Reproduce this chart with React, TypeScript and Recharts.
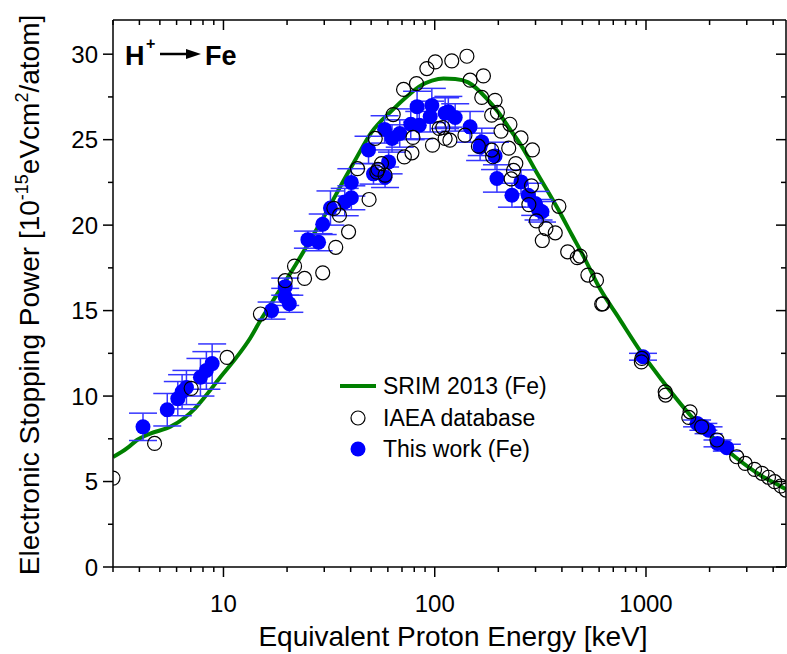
import { ComposedChart, Line, Scatter, XAxis, YAxis, ErrorBar } from 'recharts'

document.body.style.margin = '0'

// SRIM 2013 curve (keV, 1e-15 eVcm2/atom)
const srimEnergy = [3, 3.5, 3.9, 4.5, 5.6, 6.5, 7.3, 8.1, 9.7, 11.5, 13.4, 15, 17, 22, 26, 31.5, 37, 42, 50, 63, 75, 84, 97, 110, 125, 144, 175, 200, 223, 260, 300, 385, 445, 505, 595, 750, 950, 1186, 1643, 2000, 2636, 3500, 4375, 4600]
const srimPower = [6.43, 6.95, 7.43, 7.8, 8.2, 8.7, 9.25, 9.9, 11.13, 12.25, 13.4, 14.45, 15.5, 17.7, 19.2, 21.0, 22.6, 23.8, 25.4, 26.73, 27.6, 28.09, 28.45, 28.58, 28.55, 28.35, 27.45, 26.6, 25.75, 24.55, 23.2, 20.9, 19.45, 18.2, 16.45, 14.5, 12.55, 10.95, 8.8, 7.75, 6.45, 5.35, 4.7, 4.55]

// IAEA database
const iaeaEnergy = [3.0, 4.72, 7.03, 10.4, 14.96, 19.6, 21.7, 24.2, 29.5, 34.0, 39.1, 35.4, 33.3, 48.9, 43.1, 53.2, 52.3, 56, 58.2, 53.9, 63.6, 71.2, 82, 91.8, 100.6, 120.4, 142, 147, 170, 167, 186, 71.8, 78, 78.9, 97.6, 109.2, 112, 118, 139, 161, 186, 188, 105, 193, 198, 227, 206, 256, 224, 290, 242, 236, 230, 287, 279, 303, 387, 323, 372, 336, 426, 487, 473, 531, 583, 617, 625, 951, 955, 1233, 1238, 1617, 1594, 1834, 2168, 2687, 2948, 3265, 3541, 3801, 4065, 4350, 4600]
const iaeaPower = [5.2, 7.23, 10.45, 12.26, 14.8, 16.75, 17.6, 16.88, 17.21, 18.7, 19.61, 20.58, 20.98, 21.5, 23.3, 23.1, 25.07, 23.6, 22.92, 23.26, 26.47, 27.94, 28.28, 29.16, 29.55, 29.61, 29.88, 28.48, 28.73, 27.47, 26.43, 23.99, 24.23, 25.13, 24.68, 25.71, 25.07, 24.97, 25.26, 24.62, 24.39, 24.0, 25.66, 27.3, 26.6, 25.9, 25.5, 25.1, 24.5, 24.4, 23.6, 23.2, 22.7, 22.3, 21.2, 20.25, 21.1, 19.1, 19.55, 19.8, 18.44, 18.19, 18.1, 17.08, 16.78, 15.38, 15.4, 12.0, 12.2, 10.25, 10.06, 9.08, 8.75, 8.2, 7.43, 6.45, 6.06, 5.71, 5.48, 5.25, 4.99, 4.74, 4.5]

// This work (Fe)
const workEnergy = [4.16, 5.42, 6.08, 6.37, 6.68, 7.78, 8.3, 8.84, 16.9, 19.6, 19.6, 20.5, 25.1, 28.2, 29.5, 32.1, 37.5, 40.3, 40.3, 48.6, 51.3, 58.2, 60.5, 57.9, 62.8, 68.3, 77, 82.5, 84.5, 96.9, 95.2, 112, 116, 125, 147, 167, 164, 193, 197, 232, 256, 277, 299, 310, 322, 968, 1745, 1869, 1978, 2180, 2414]
const workPower = [8.2, 9.2, 9.85, 10.25, 10.5, 11.1, 11.5, 11.9, 15.0, 16.4, 15.8, 15.4, 19.15, 19.0, 20.05, 21.0, 21.35, 21.6, 22.5, 24.4, 23.0, 22.8, 23.7, 25.6, 25.07, 25.36, 25.9, 26.93, 25.85, 27.0, 26.35, 26.55, 26.63, 26.3, 25.75, 24.87, 24.58, 24.05, 22.73, 21.75, 22.53, 21.75, 21.27, 20.9, 20.78, 12.3, 8.4, 8.2, 8.0, 7.23, 6.98]
const workError = [0.8, 0.95, 1.0, 1.0, 1.0, 1.1, 1.1, 1.15, 0.5, 0.5, 0.5, 0.5, 0.5, 0.5, 0.6, 1.0, 0.8, 0.7, 0.8, 0.8, 0.6, 0.6, 0.7, 0.8, 0.8, 0.8, 0.9, 0.9, 0.8, 1.0, 0.9, 0.9, 0.9, 0.8, 0.9, 0.8, 0.8, 0.8, 0.8, 0.7, 0.7, 0.7, 0.7, 0.6, 0.6, 0.2, 0.2, 0.2, 0.2, 0.2, 0.2]

const xTicks = [3, 4, 5, 6, 7, 8, 9, 10, 20, 30, 40, 50, 60, 70, 80, 90, 100, 200, 300, 400, 500, 600, 700, 800, 900, 1000, 2000, 3000, 4000]
const xLabels = [10, 100, 1000]
const yTicks = [0, 2.5, 5, 7.5, 10, 12.5, 15, 17.5, 20, 22.5, 25, 27.5, 30]

const srimData = srimEnergy.map((x, i) => ({ x, y: srimPower[i] }))
const iaeaData = iaeaEnergy.map((x, i) => ({ x, y: iaeaPower[i] }))
const workData = workEnergy.map((x, i) => ({ x, y: workPower[i], err: workError[i] }))

const FONT = '"Liberation Sans", Arial, sans-serif'
const BLUE = '#0000ff'
const GREEN = '#008000'

function BottomTick({ x, y, payload }: any) {
  const major = xLabels.includes(payload.value)
  return (
    <g>
      <line x1={x} x2={x} y1={y} y2={y + (major ? 10 : 5)} stroke="#000" strokeWidth={1.5} />
      {major && (
        <text x={x} y={y + 45} textAnchor="middle" fontSize={24} fontFamily={FONT} fill="#000">
          {payload.value}
        </text>
      )}
    </g>
  )
}

function TopTick({ x, y, payload }: any) {
  const major = xLabels.includes(payload.value)
  return <line x1={x} x2={x} y1={y} y2={y + (major ? 10 : 5)} stroke="#000" strokeWidth={1.5} />
}

function LeftTick({ x, y, payload }: any) {
  const major = payload.value % 5 === 0
  return (
    <g>
      <line x1={x - (major ? 10 : 5)} x2={x} y1={y} y2={y} stroke="#000" strokeWidth={1.5} />
      {major && (
        <text x={x - 15} y={y + 8.5} textAnchor="end" fontSize={24} fontFamily={FONT} fill="#000">
          {payload.value}
        </text>
      )}
    </g>
  )
}

function RightTick({ x, y, payload }: any) {
  const major = payload.value % 5 === 0
  return <line x1={x - (major ? 10 : 5)} x2={x} y1={y} y2={y} stroke="#000" strokeWidth={1.5} />
}

const openCircle = (p: any) => <circle cx={p.cx} cy={p.cy} r={7} fill="none" stroke="#000" strokeWidth={1.2} />
const filledCircle = (p: any) => <circle cx={p.cx} cy={p.cy} r={7.5} fill={BLUE} />

const axisLine = { stroke: '#000', strokeWidth: 1.5 }

export default function App() {
  return (
    <div style={{ position: 'relative', width: 787, height: 654, background: '#fff' }}>
      <ComposedChart width={787} height={654} margin={{ top: 19, right: 0, bottom: 57, left: 53 }}>
        <XAxis
          xAxisId="bottom"
          dataKey="x"
          type="number"
          scale="log"
          domain={[3, 4600]}
          allowDataOverflow
          ticks={xTicks}
          interval={0}
          tickSize={0}
          tickMargin={0}
          tickLine={false}
          tick={<BottomTick />}
          axisLine={axisLine}
          height={30}
        />
        <XAxis
          xAxisId="top"
          orientation="top"
          dataKey="x"
          type="number"
          scale="log"
          domain={[3, 4600]}
          allowDataOverflow
          ticks={xTicks}
          interval={0}
          tickSize={0}
          tickMargin={0}
          tickLine={false}
          tick={<TopTick />}
          axisLine={axisLine}
          height={1}
        />
        <YAxis
          yAxisId="left"
          type="number"
          domain={[0, 32]}
          allowDataOverflow
          ticks={yTicks}
          interval={0}
          tickSize={0}
          tickMargin={0}
          tickLine={false}
          tick={<LeftTick />}
          axisLine={axisLine}
          width={60}
        />
        <YAxis
          yAxisId="right"
          orientation="right"
          type="number"
          domain={[0, 32]}
          allowDataOverflow
          ticks={yTicks}
          interval={0}
          tickSize={0}
          tickMargin={0}
          tickLine={false}
          tick={<RightTick />}
          axisLine={axisLine}
          width={1}
        />
        <Line
          xAxisId="bottom"
          yAxisId="left"
          data={srimData}
          dataKey="y"
          type="monotone"
          stroke={GREEN}
          strokeWidth={4}
          dot={false}
          isAnimationActive={false}
        />
        <Scatter xAxisId="bottom" yAxisId="left" data={workData} dataKey="y" shape={filledCircle} isAnimationActive={false}>
          <ErrorBar dataKey="err" direction="y" width={14} stroke="#3535ff" strokeWidth={1.5} />
        </Scatter>
        <Scatter xAxisId="bottom" yAxisId="left" data={iaeaData} dataKey="y" shape={openCircle} isAnimationActive={false} />
      </ComposedChart>

      <svg width={787} height={654} style={{ position: 'absolute', left: 0, top: 0, pointerEvents: 'none' }} fontFamily={FONT}>
        {/* annotation */}
        <text x={125} y={65} fontSize={27} fontWeight="bold" fill="#000">H</text>
        <text x={146} y={49} fontSize={16} fontWeight="bold" fill="#000">+</text>
        <line x1={160} y1={54} x2={190} y2={54} stroke="#000" strokeWidth={2.5} />
        <polygon points="186,49 201,54 186,59" fill="#000" />
        <text x={205} y={65} fontSize={27} fontWeight="bold" fill="#000">Fe</text>

        {/* legend */}
        <line x1={340} y1={386} x2={376} y2={386} stroke={GREEN} strokeWidth={4} />
        <text x={383} y={394} fontSize={23} fill="#000">SRIM 2013 (Fe)</text>
        <circle cx={358} cy={418} r={7} fill="none" stroke="#000" strokeWidth={1.2} />
        <text x={383} y={426} fontSize={23} fill="#000">IAEA database</text>
        <circle cx={358} cy={449} r={7.5} fill={BLUE} />
        <text x={383} y={457} fontSize={23} fill="#000">This work (Fe)</text>

        {/* axis titles */}
        <text x={453} y={646} textAnchor="middle" fontSize={28} fill="#000">Equivalent Proton Energy [keV]</text>
        <text transform="translate(39, 295) rotate(-90)" textAnchor="middle" fontSize={28} fill="#000">
          Electronic Stopping Power [10
          <tspan dy={-11} fontSize={18}>-15</tspan>
          <tspan dy={11}>eVcm</tspan>
          <tspan dy={-11} fontSize={18}>2</tspan>
          <tspan dy={11}>/atom]</tspan>
        </text>
      </svg>
    </div>
  )
}
